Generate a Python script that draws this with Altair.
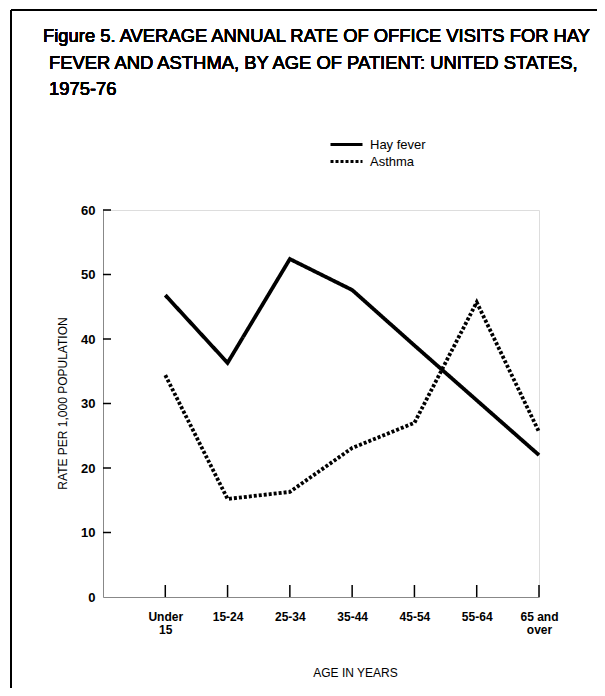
import altair as alt
import pandas as pd

# ---- data ----
categories = ["Under 15", "15-24", "25-34", "35-44", "45-54", "55-64", "65 and over"]
tick_labels = ["Under|15", "15-24", "25-34", "35-44", "45-54", "55-64", "65 and|over"]
positions = [1, 2, 3, 4, 5, 6, 7]
hay_fever = [46.8, 36.3, 52.4, 47.6, 39.0, 30.5, 22.0]
asthma = [34.4, 15.2, 16.3, 23.1, 27.0, 45.7, 25.6]
series_names = ["Hay fever", "Asthma"]
y_ticks = [0, 10, 20, 30, 40, 50, 60]
title_lines = [
    "Figure 5. AVERAGE ANNUAL RATE OF OFFICE VISITS FOR HAY",
    "FEVER AND ASTHMA, BY AGE OF PATIENT: UNITED STATES,",
    "1975-76",
]

W, H = 436, 387
FONT = "Liberation Sans"

rows = []
for name, vals in zip(series_names, [hay_fever, asthma]):
    for p, c, v in zip(positions, categories, vals):
        rows.append({"pos": p, "category": c, "series": name, "value": v})
df = pd.DataFrame(rows)

label_arr = "[''," + ",".join("'" + t + "'" for t in tick_labels) + "]"
label_expr = "split(" + label_arr + "[datum.value], '|')"

x_scale = alt.Scale(domain=[0, 7], nice=False, zero=False)
y_scale = alt.Scale(domain=[0, 60], nice=False)

x_axis = alt.Axis(values=positions, labelExpr=label_expr, title="AGE IN YEARS", grid=False, ticks=False,
                  labelPadding=14, labelLineHeight=13, labelFontSize=12,
                  labelFontWeight="bold", labelAlign="center", labelBaseline="top",
                  titleX=252, titleY=75, titleAlign="center", titleBaseline="middle",
                  titleFontSize=12, titleFontWeight="normal")
y_axis = alt.Axis(values=y_ticks, title="RATE PER 1,000 POPULATION", grid=False, ticks=False,
                  labelPadding=8, labelFontSize=13, labelFontWeight="bold",
                  titleX=-41, titleY=193, titleAlign="center", titleBaseline="middle",
                  titleFontSize=12, titleFontWeight="normal", titleAngle=270)

legend = alt.Legend(title=None, orient="none", legendX=234, legendY=-75,
                    padding=0, symbolType="M-2,0H2", symbolSize=256,
                    symbolStrokeWidth=3, labelFontSize=13, labelFont=FONT,
                    labelOffset=14, rowPadding=0, labelColor="black")

lines = alt.Chart(df).mark_line(strokeWidth=3.8, strokeCap="butt", strokeJoin="miter").encode(
    x=alt.X("pos:Q", scale=x_scale, axis=x_axis),
    y=alt.Y("value:Q", scale=y_scale, axis=y_axis),
    color=alt.Color("series:N", scale=alt.Scale(domain=series_names, range=["black", "black"]),
                    legend=legend),
    strokeDash=alt.StrokeDash("series:N",
                              scale=alt.Scale(domain=series_names, range=[[1, 0], [3, 2]]),
                              legend=legend),
    order="pos:Q",
)

xt_df = pd.DataFrame({"pos": positions})
x_ticks = alt.Chart(xt_df).mark_tick(size=12, thickness=1.5, color="black", opacity=1).encode(
    x=alt.X("pos:Q", scale=x_scale, axis=x_axis), y=alt.value(H - 6)
)

yt_df = pd.DataFrame({"value": y_ticks[1:]})
y_ticks_layer = alt.Chart(yt_df).mark_tick(size=8, thickness=1.5, color="black", opacity=1).encode(
    y=alt.Y("value:Q", scale=y_scale, axis=y_axis), x=alt.value(4)
)

border_top = alt.Chart(xt_df).mark_rule(color="black", strokeWidth=1.5).encode(
    x=alt.value(-92), x2=alt.value(494), y=alt.value(-200)
)
border_left = alt.Chart(xt_df).mark_rule(color="black", strokeWidth=1.5).encode(
    x=alt.value(-92), y=alt.value(-200), y2=alt.value(H + 91)
)

title_pos = [(-60, -174), (-54, -147), (-54, -121)]
title_layers = []
for line, (tx, ty) in zip(title_lines, title_pos):
    title_layers.append(
        alt.Chart(xt_df).mark_text(align="left", baseline="middle", fontSize=18.4, font=FONT,
                                   fontWeight="normal", color="black").encode(
            x=alt.value(tx), y=alt.value(ty), text=alt.value(line)
        )
    )

chart = alt.layer(border_top, border_left, *title_layers, x_ticks, y_ticks_layer, lines).properties(
    width=W, height=H,
    autosize=alt.AutoSizeParams(type="none"),
    padding={"left": 95, "top": 202, "right": 58, "bottom": 91},
).configure_view(stroke=None).configure_axis(
    domainColor="black", domainWidth=1.5, ticks=False, grid=False,
    labelFont=FONT, titleFont=FONT, labelColor="black", titleColor="black",
).configure(background="white")

chart.save("out.html", embed_options={"renderer": "svg", "actions": False})
